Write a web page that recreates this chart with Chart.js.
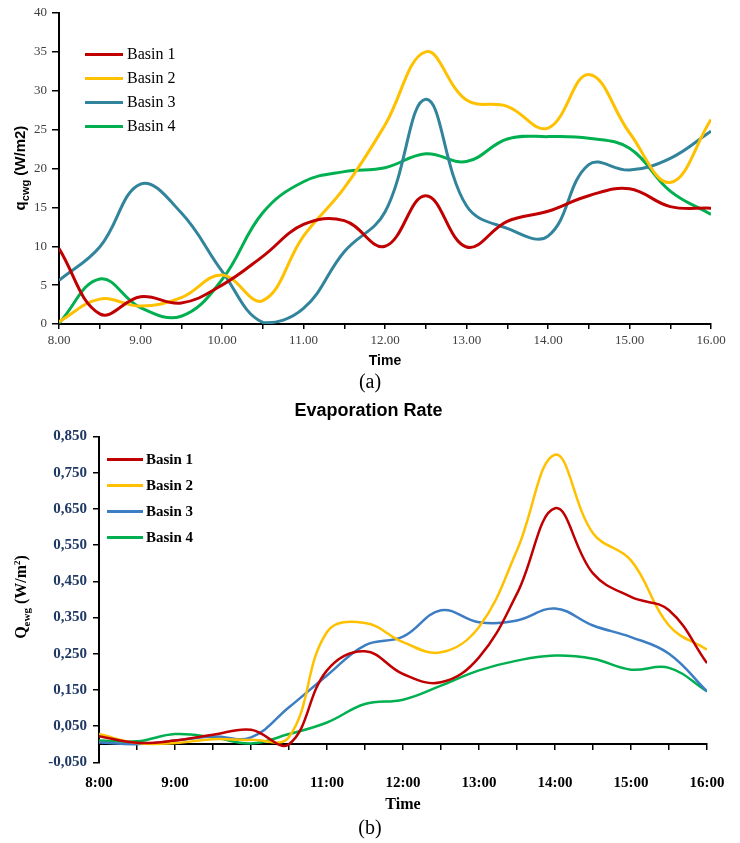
<!DOCTYPE html>
<html>
<head>
<meta charset="utf-8">
<script src="https://cdn.jsdelivr.net/npm/chart.js@4.4.1/dist/chart.umd.min.js"></script>
<style>
  html, body { margin: 0; padding: 0; background: #fff; overflow: hidden; }
  #page { position: relative; width: 740px; height: 843px; }
  .abs { position: absolute; }
  .ytitle { position: absolute; white-space: nowrap; transform: translate(-50%, -50%) rotate(-90deg); }
  .leg { position: absolute; white-space: nowrap; display: flex; align-items: center; }
  .leg span.line { display: inline-block; }
</style>
</head>
<body>
<div id="page">
  <canvas id="chartA" class="abs" style="left:0;top:0" width="740" height="372"></canvas>
  <canvas id="chartB" class="abs" style="left:0;top:395px" width="740" height="448"></canvas>

  <div class="ytitle" style="left:21px;top:168px;font:bold 15px 'Liberation Sans', Arial, sans-serif;color:#000">q<sub style="font-size:11px">cwg</sub> (W/m2)</div>
  <div class="ytitle" style="left:22px;top:597px;font:bold 16px 'Liberation Serif', 'Times New Roman', serif;color:#000">Q<sub style="font-size:11px">ewg</sub> (W/m<sup style="font-size:9px">2</sup>)</div>

  <div class="abs" style="left:0;width:740px;top:370px;text-align:center;font:20px 'Liberation Serif', 'Times New Roman', serif;color:#000">(a)</div>
  <div class="abs" style="left:0;width:740px;top:816px;text-align:center;font:20px 'Liberation Serif', 'Times New Roman', serif;color:#000">(b)</div>

  <div id="legA"></div>
  <div id="legB"></div>
</div>
<script>
// ---------- data: chart (a) ----------
const seriesNames = ['Basin 1', 'Basin 2', 'Basin 3', 'Basin 4'];
const timesA = [8, 8.5, 9, 9.5, 10, 10.5, 11, 11.5, 12, 12.5, 13, 13.5, 14, 14.5, 15, 15.5, 16];
const basin1A = [9.7, 1.3, 3.5, 2.7, 5.0, 8.7, 12.8, 13.3, 10.0, 16.5, 9.9, 13.2, 14.5, 16.5, 17.4, 15.1, 14.9];
const basin2A = [0.3, 3.2, 2.3, 3.4, 6.3, 3.0, 11.3, 17.5, 25.6, 35.0, 28.8, 28.0, 25.2, 32.1, 24.6, 18.2, 26.3];
const basin3A = [5.6, 9.9, 18.0, 14.3, 6.8, 0.2, 2.0, 9.3, 14.4, 28.9, 15.2, 12.3, 11.3, 20.5, 19.8, 21.3, 24.8];
const basin4A = [0.1, 5.8, 2.1, 1.0, 5.7, 14.3, 18.3, 19.6, 20.1, 21.9, 20.9, 23.8, 24.1, 23.9, 22.6, 17.1, 14.1];
const yTicksA = [0, 5, 10, 15, 20, 25, 30, 35, 40];

// ---------- data: chart (b) ----------
const timesB = [8, 8.5, 9, 9.5, 10, 10.5, 11, 11.5, 12, 12.5, 13, 13.5, 14, 14.5, 15, 15.5, 16];
const basin1B = [0.022, 0.004, 0.010, 0.026, 0.040, 0.000, 0.204, 0.257, 0.194, 0.171, 0.240, 0.416, 0.652, 0.472, 0.407, 0.370, 0.224];
const basin2B = [0.028, 0.003, 0.003, 0.014, 0.012, 0.020, 0.310, 0.335, 0.282, 0.254, 0.324, 0.536, 0.800, 0.583, 0.508, 0.328, 0.261];
const basin3B = [0.005, 0.000, 0.010, 0.021, 0.019, 0.102, 0.190, 0.273, 0.297, 0.370, 0.337, 0.342, 0.375, 0.328, 0.296, 0.250, 0.146];
const basin4B = [0.010, 0.008, 0.028, 0.019, 0.002, 0.028, 0.060, 0.111, 0.123, 0.162, 0.204, 0.231, 0.245, 0.236, 0.206, 0.211, 0.146];
const yTicksB = [-0.05, 0.05, 0.15, 0.25, 0.35, 0.45, 0.55, 0.65, 0.75, 0.85];

const colorsA = ['#C00000', '#FFC000', '#31849B', '#00B050'];
const colorsB = ['#C00000', '#FFC000', '#3C7DC4', '#00B050'];

const SERIF = "'Liberation Serif', 'Times New Roman', serif";
const SANS = "'Liberation Sans', Arial, sans-serif";

function pts(xs, ys) { return xs.map((x, i) => ({ x: x, y: ys[i] })); }

// ---------- chart (a) ----------
const dataA = [basin1A, basin2A, basin3A, basin4A];
new Chart(document.getElementById('chartA'), {
  type: 'line',
  data: {
    datasets: dataA.map((d, i) => ({
      label: seriesNames[i],
      data: pts(timesA, d),
      borderColor: colorsA[i],
      backgroundColor: colorsA[i],
      borderWidth: 3,
      pointRadius: 0,
      tension: 0.4,
      fill: false
    }))
  },
  options: {
    responsive: false,
    animation: false,
    layout: { padding: { left: 0, right: 29, top: 13, bottom: 0 } },
    plugins: { legend: { display: false }, tooltip: { enabled: false } },
    scales: {
      x: {
        type: 'linear', min: 8, max: 16,
        afterFit: s => { s.height = 48; },
        border: { display: true, color: '#000', width: 2 },
        grid: { drawOnChartArea: false, drawTicks: true, tickLength: 5, color: '#000', lineWidth: 1.5 },
        ticks: {
          stepSize: 0.5, autoSkip: false, maxRotation: 0, padding: 4,
          color: '#404040', font: { family: SERIF, size: 13 },
          callback: v => Number.isInteger(v) ? v.toFixed(2) : ''
        },
        title: { display: true, text: 'Time', color: '#000', font: { family: SANS, size: 14, weight: 'bold' }, padding: { top: 0, bottom: 2 } }
      },
      y: {
        min: 0, max: 40,
        afterFit: s => { s.width = 59; },
        afterBuildTicks: s => { s.ticks = yTicksA.map(v => ({ value: v })); },
        border: { display: true, color: '#000', width: 2 },
        grid: { drawOnChartArea: false, drawTicks: true, tickLength: 7, color: '#000', lineWidth: 1.5 },
        ticks: { padding: 5, color: '#404040', font: { family: SERIF, size: 13 } }
      }
    }
  }
});

// ---------- chart (b) ----------
const dataB = [basin1B, basin2B, basin3B, basin4B];
new Chart(document.getElementById('chartB'), {
  type: 'line',
  data: {
    datasets: dataB.map((d, i) => ({
      label: seriesNames[i],
      data: pts(timesB, d),
      borderColor: colorsB[i],
      backgroundColor: colorsB[i],
      borderWidth: 2.5,
      pointRadius: 0,
      tension: 0.4,
      fill: false
    }))
  },
  options: {
    responsive: false,
    animation: false,
    layout: { padding: { left: 30, right: 33, top: 0, bottom: 0 } },
    plugins: {
      legend: { display: false }, tooltip: { enabled: false },
      title: { display: true, text: 'Evaporation Rate', color: '#000', font: { family: SANS, size: 18, weight: 'bold' }, padding: { top: 5, bottom: 15 } }
    },
    scales: {
      x: {
        type: 'linear', min: 8, max: 16,
        afterFit: s => { s.height = 80.7; },
        border: { display: false },
        grid: { display: false },
        ticks: {
          stepSize: 1, autoSkip: false, maxRotation: 0, padding: 4,
          color: '#000', font: { family: SERIF, size: 15, weight: 'bold' },
          callback: v => v + ':00'
        },
        title: { display: true, text: 'Time', color: '#000', font: { family: SERIF, size: 16, weight: 'bold' }, padding: { top: 0, bottom: 29 } }
      },
      x0: {
        type: 'linear', min: 8, max: 16,
        position: { y: 0 },
        border: { display: true, color: '#000', width: 2 },
        grid: { drawOnChartArea: false, drawTicks: true, tickLength: 5, color: '#000', lineWidth: 1.5 },
        ticks: { display: false, stepSize: 0.5, autoSkip: false }
      },
      y: {
        min: -0.05, max: 0.85,
        afterFit: s => { s.width = 69; },
        afterBuildTicks: s => { s.ticks = yTicksB.map(v => ({ value: v })); },
        border: { display: true, color: '#000', width: 2 },
        grid: { drawOnChartArea: false, drawTicks: true, tickLength: 6, color: '#000', lineWidth: 1.5 },
        ticks: {
          padding: 6, color: '#1F3864', font: { family: SERIF, size: 15, weight: 'bold' },
          callback: v => v.toFixed(3).replace('.', ',')
        }
      }
    }
  }
});

// ---------- legends (HTML) ----------
function buildLegend(el, colors, opts) {
  seriesNames.forEach((n, i) => {
    const row = document.createElement('div');
    row.className = 'leg';
    row.style.left = opts.left + 'px';
    row.style.top = (opts.top + i * opts.step - 10) + 'px';
    row.style.height = '20px';
    row.style.font = opts.font;
    row.style.color = '#000';
    const line = document.createElement('span');
    line.className = 'line';
    line.style.width = opts.lineW + 'px';
    line.style.height = opts.lineH + 'px';
    line.style.background = colors[i];
    line.style.marginRight = opts.gap + 'px';
    const t = document.createElement('span');
    t.textContent = n;
    row.appendChild(line);
    row.appendChild(t);
    el.appendChild(row);
  });
}
buildLegend(document.getElementById('legA'), colorsA, { left: 85, top: 54, step: 24, lineW: 38, lineH: 3, gap: 4, font: "16px " + SERIF });
buildLegend(document.getElementById('legB'), colorsB, { left: 107, top: 459, step: 26, lineW: 36, lineH: 3, gap: 3, font: "bold 15px " + SERIF });
</script>
</body>
</html>
